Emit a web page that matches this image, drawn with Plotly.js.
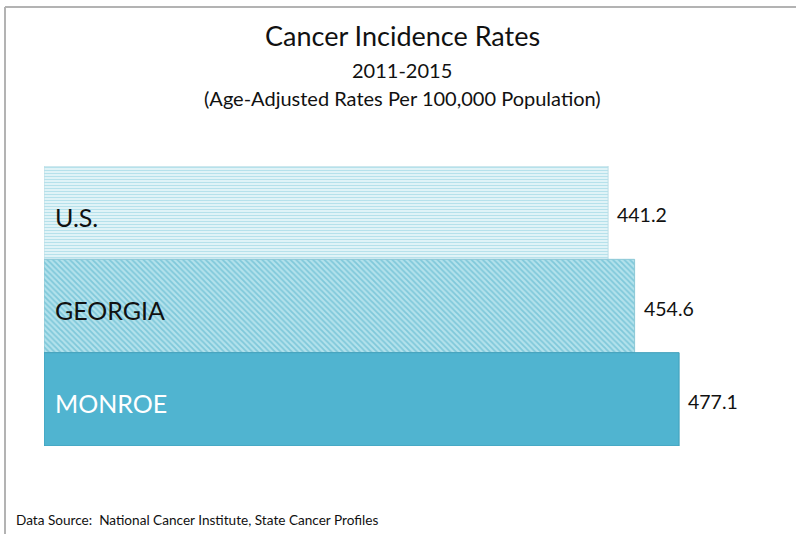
<!DOCTYPE html>
<html>
<head>
<meta charset="utf-8">
<script src="https://cdn.plot.ly/plotly-3.0.1.min.js"></script>
<style>html,body{margin:0;padding:0;background:#fff;}#chart{width:796px;height:534px;}</style>
</head>
<body>
<div id="chart"></div>
<script>
const categories = ["U.S.", "GEORGIA", "MONROE"];
const rates = [441.2, 454.6, 477.1];
const valueLabels = ["441.2", "454.6", "477.1"];
const titleText = "Cancer Incidence Rates";
const subtitleYears = "2011-2015";
const subtitleUnits = "(Age-Adjusted Rates Per 100,000 Population)";
const sourceText = "Data Source:  National Cancer Institute, State Cancer Profiles";

const FONT = "Lato, 'Open Sans', sans-serif";
const axisMin = 156, axisMax = 518;

const styles = [
  {bg: "#e5f5f9", fg: "#b6e1eb", line: "#bcdde6", shape: "-", size: 3, solidity: 0.4},
  {bg: "#b3e2ec", fg: "#7fc8da", line: "#8cc8d6", shape: "\\", size: 4, solidity: 0.45},
  {bg: "#50b4d0", fg: "#50b4d0", line: "#3f9fbb", shape: "", size: 6, solidity: 0.3}
];

const traces = categories.map((c, i) => ({
  type: "bar",
  orientation: "h",
  y: [c],
  x: [rates[i] - axisMin],
  base: axisMin,
  hoverinfo: "skip",
  marker: {
    color: styles[i].fg,
    line: {color: styles[i].line, width: 1},
    pattern: {
      shape: styles[i].shape,
      bgcolor: styles[i].bg,
      fgcolor: styles[i].fg,
      size: styles[i].size,
      solidity: styles[i].solidity,
      fillmode: "replace"
    }
  }
}));

const annotations = [];
categories.forEach((c, i) => {
  annotations.push({
    x: axisMin, y: c, xref: "x", yref: "y", xanchor: "left", yanchor: "middle",
    xshift: 9, yshift: -4, text: c, showarrow: false,
    font: {family: FONT, size: 25, color: i === 2 ? "#ffffff" : "#111111"}
  });
  annotations.push({
    x: rates[i], y: c, xref: "x", yref: "y", xanchor: "left", yanchor: "middle",
    xshift: 7, yshift: -2, text: valueLabels[i], showarrow: false,
    font: {family: FONT, size: 19.5, color: "#111111"}
  });
});
annotations.push({text: titleText, xref: "paper", yref: "paper", x: 0.5, y: 1, yanchor: "middle",
  xshift: 0, yshift: 166 - 35, showarrow: false, font: {family: FONT, size: 27, color: "#111"}});
annotations.push({text: subtitleYears, xref: "paper", yref: "paper", x: 0.5, y: 1, yanchor: "middle",
  xshift: 0, yshift: 166 - 70, showarrow: false, font: {family: FONT, size: 20, color: "#111"}});
annotations.push({text: subtitleUnits, xref: "paper", yref: "paper", x: 0.5, y: 1, yanchor: "middle",
  xshift: 0, yshift: 166 - 98, showarrow: false, font: {family: FONT, size: 20, color: "#111"}});
annotations.push({text: sourceText, xref: "paper", yref: "paper", x: 0, y: 0, xanchor: "left", yanchor: "middle",
  xshift: -30, yshift: -(520 - 446), showarrow: false, font: {family: FONT, size: 13.6, color: "#111"}});

const W = 716, H = 280;
const shapes = [
  {type: "line", xref: "paper", yref: "paper", x0: (5 - 44) / W, x1: (800 - 44) / W,
   y0: (446 - 7) / H, y1: (446 - 7) / H, line: {color: "#b3b3b3", width: 2}},
  {type: "line", xref: "paper", yref: "paper", x0: (5 - 44) / W, x1: (5 - 44) / W,
   y0: (446 - 7) / H, y1: (446 - 540) / H, line: {color: "#b3b3b3", width: 2}}
];

const layout = {
  width: 796, height: 534,
  margin: {l: 44, r: 36, t: 166, b: 88, pad: 0},
  paper_bgcolor: "#ffffff", plot_bgcolor: "#ffffff",
  showlegend: false,
  barmode: "overlay",
  bargap: 0,
  xaxis: {range: [axisMin, axisMax], visible: false, fixedrange: true},
  yaxis: {autorange: "reversed", visible: false, fixedrange: true, type: "category",
          categoryorder: "array", categoryarray: categories},
  annotations: annotations,
  shapes: shapes,
  font: {family: FONT}
};

Plotly.newPlot("chart", traces, layout, {displayModeBar: false, staticPlot: true});
</script>
</body>
</html>
